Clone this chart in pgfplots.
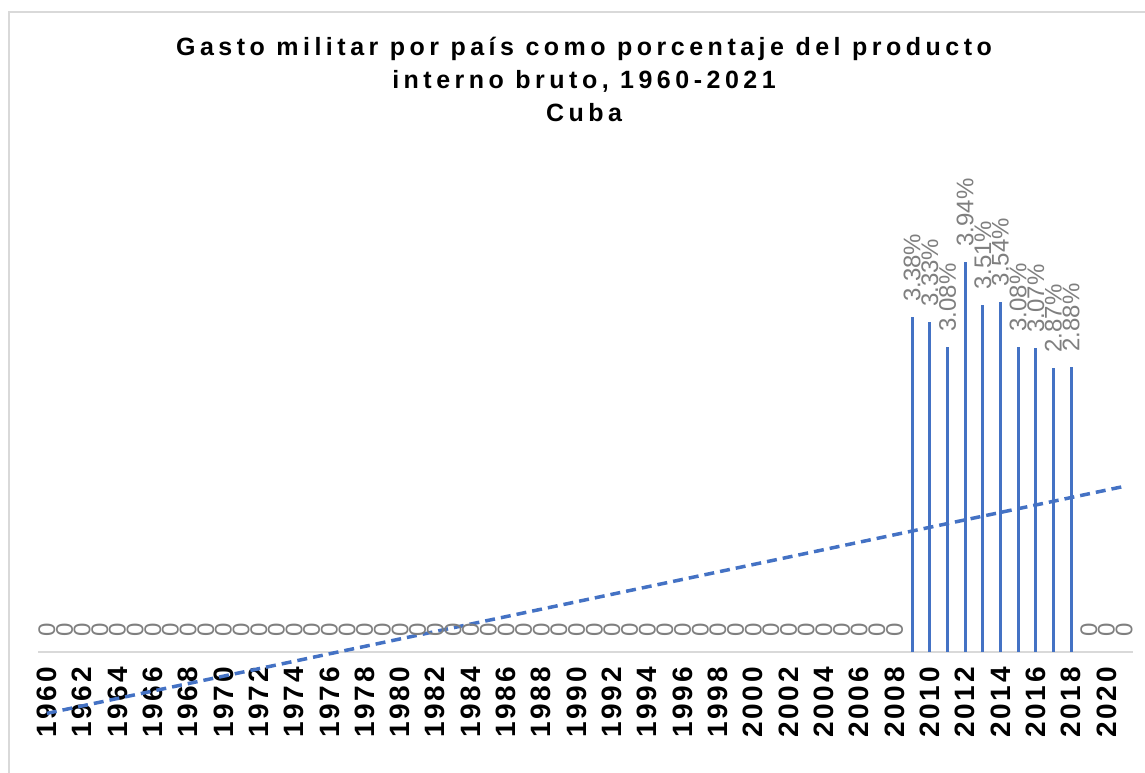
\documentclass[border=0pt]{standalone}
\usepackage{pgfplots}
\pgfplotsset{compat=1.18}
\usepackage{pgfplotstable}
\usepackage{fontspec}
\setmainfont{Liberation Sans}
\newfontfamily\spaced[LetterSpace=18]{Liberation Sans}
\newfontfamily\tickspaced[LetterSpace=10]{Liberation Sans}
\definecolor{barblue}{HTML}{4472C4}
\definecolor{lblgray}{HTML}{7F7F7F}
\definecolor{axgray}{HTML}{D9D9D9}
\pgfplotstableread{
year val lab
1960 0 0
1961 0 0
1962 0 0
1963 0 0
1964 0 0
1965 0 0
1966 0 0
1967 0 0
1968 0 0
1969 0 0
1970 0 0
1971 0 0
1972 0 0
1973 0 0
1974 0 0
1975 0 0
1976 0 0
1977 0 0
1978 0 0
1979 0 0
1980 0 0
1981 0 0
1982 0 0
1983 0 0
1984 0 0
1985 0 0
1986 0 0
1987 0 0
1988 0 0
1989 0 0
1990 0 0
1991 0 0
1992 0 0
1993 0 0
1994 0 0
1995 0 0
1996 0 0
1997 0 0
1998 0 0
1999 0 0
2000 0 0
2001 0 0
2002 0 0
2003 0 0
2004 0 0
2005 0 0
2006 0 0
2007 0 0
2008 0 0
2009 3.38 3.38\%
2010 3.33 3.33\%
2011 3.08 3.08\%
2012 3.94 3.94\%
2013 3.51 3.51\%
2014 3.54 3.54\%
2015 3.08 3.08\%
2016 3.07 3.07\%
2017 2.87 2.87\%
2018 2.88 2.88\%
2019 0 0
2020 0 0
2021 0 0
}\data
\begin{document}
\begin{tikzpicture}
\useasboundingbox (0,0) rectangle (1145pt,773pt);
\draw[axgray, line width=1.5pt] (9pt,0) -- (9pt,761pt) -- (1145pt,761pt);
\node[anchor=base, inner sep=0pt, font=\spaced\bfseries\fontsize{25}{30}\selectfont] at (584pt,717pt) {Gasto militar por país como porcentaje del producto};
\node[anchor=base, inner sep=0pt, font=\spaced\bfseries\fontsize{25}{30}\selectfont] at (584pt,684pt) {interno bruto, 1960-2021};
\node[anchor=base, inner sep=0pt, font=\spaced\bfseries\fontsize{25}{30}\selectfont] at (584pt,651pt) {Cuba};
\begin{axis}[
  at={(38pt,121pt)}, anchor=south west,
  scale only axis, width=1095pt, height=445.5pt,
  xmin=1959.5, xmax=2021.5, ymin=0, ymax=4.5,
  axis y line=none, axis x line=bottom,
  x axis line style={axgray, line width=2pt, -},
  xtick={1960,1962,...,2020},
  xticklabels={1960,1962,1964,1966,1968,1970,1972,1974,1976,1978,1980,1982,1984,1986,1988,1990,1992,1994,1996,1998,2000,2002,2004,2006,2008,2010,2012,2014,2016,2018,2020},
  major tick length=0pt,
  xticklabel style={yshift=-15pt, rotate=90, anchor=east, inner sep=0pt, text=black, font=\tickspaced\bfseries\fontsize{28}{28}\selectfont},
  clip=false,
  every node near coord/.append style={rotate=90, anchor=west, inner sep=0pt, xshift=14pt, text=lblgray, font=\fontsize{24}{24}\selectfont},
]
\addplot[ycomb, barblue, line width=3pt, nodes near coords, point meta=explicit symbolic] table[x=year, y=val, meta=lab]{\data};
\addplot[barblue, line width=3.5pt, dash pattern=on 10pt off 6pt] coordinates {(1960,-0.620) (2021,1.673)};
\end{axis}
\end{tikzpicture}
\end{document}
